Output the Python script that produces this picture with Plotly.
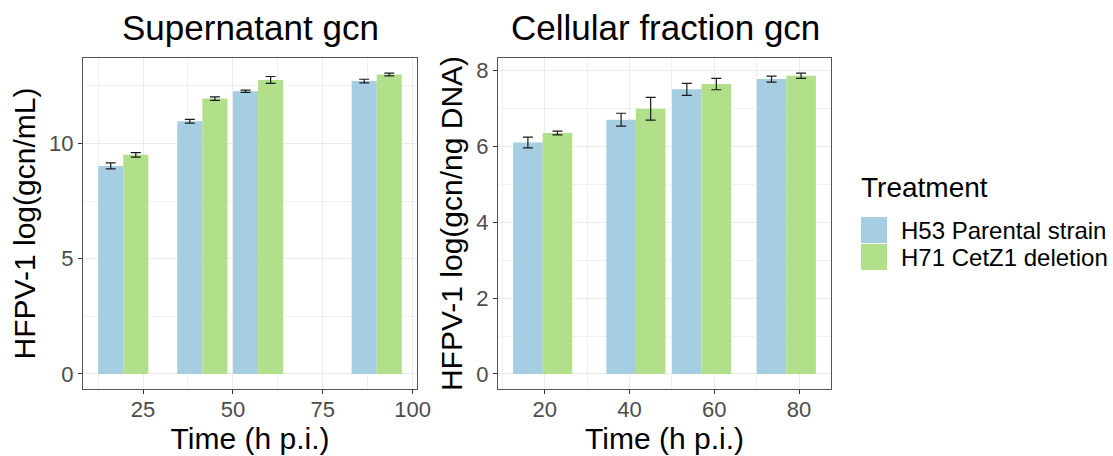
import plotly.graph_objects as go

# ---- data -------------------------------------------------------------
treatments = ["H53 Parental strain", "H71 CetZ1 deletion"]
colors = ["#a6cee3", "#b2df8a"]

sup_time = [19.5, 41.5, 57, 90]
sup_parental = [9.03, 10.97, 12.27, 12.71]
sup_parental_sd = [0.13, 0.08, 0.05, 0.08]
sup_deletion = [9.51, 11.95, 12.76, 13.00]
sup_deletion_sd = [0.10, 0.08, 0.15, 0.06]

cell_time = [19.5, 41.5, 57, 77]
cell_parental = [6.10, 6.70, 7.50, 7.77]
cell_parental_sd = [0.14, 0.17, 0.16, 0.08]
cell_deletion = [6.35, 6.99, 7.64, 7.86]
cell_deletion_sd = [0.05, 0.30, 0.15, 0.07]

sup_xticks = [25, 50, 75, 100]
sup_yticks = [0, 5, 10]
cell_xticks = [20, 40, 60, 80]
cell_yticks = [0, 2, 4, 6, 8]

panel_titles = ["Supernatant gcn", "Cellular fraction gcn"]
x_title = "Time (h p.i.)"
y_titles = ["HFPV-1 log(gcn/mL)", "HFPV-1 log(gcn/ng DNA)"]
legend_title = "Treatment"

# ---- geometry ---------------------------------------------------------
W, H = 1113, 456
FONT = "Liberation Sans, Arial, sans-serif"
BAR_W = 0.9 * 15.5 / 2  # dodge width split between two treatments


def px(x):
    return x / W


def py(y):
    return 1 - y / H


def padded(lo, hi, frac=0.05):
    span = hi - lo
    return [lo - frac * span, hi + frac * span]


fig = go.Figure()

panels = [
    (sup_time, [sup_parental, sup_deletion], [sup_parental_sd, sup_deletion_sd], "x", "y"),
    (cell_time, [cell_parental, cell_deletion], [cell_parental_sd, cell_deletion_sd], "x2", "y2"),
]

for times, series, sds, xa, ya in panels:
    for i, (vals, sd) in enumerate(zip(series, sds)):
        fig.add_trace(go.Bar(
            x=times, y=vals,
            width=BAR_W, offset=-BAR_W if i == 0 else 0,
            marker=dict(color=colors[i], line=dict(width=0)),
            error_y=dict(type="data", array=sd, visible=True,
                         color="#1a1a1a", thickness=1.2, width=5),
            name=treatments[i], showlegend=False,
            xaxis=xa, yaxis=ya,
        ))

# axis ranges follow the data extent with 5% padding
sup_xr = padded(min(sup_time) - BAR_W, max(sup_time) + BAR_W)
cell_xr = padded(min(cell_time) - BAR_W, max(cell_time) + BAR_W)
sup_yr = padded(0, max(v + s for v, s in zip(sup_deletion + sup_parental, sup_deletion_sd + sup_parental_sd)))
cell_yr = padded(0, max(v + s for v, s in zip(cell_deletion + cell_parental, cell_deletion_sd + cell_parental_sd)))


def mids(ticks):
    step = ticks[1] - ticks[0]
    return [ticks[0] - step / 2] + [t + step / 2 for t in ticks]


common = dict(
    showline=True, mirror=True, linecolor="#555555", linewidth=1,
    ticks="outside", ticklen=4, tickcolor="#333333", tickwidth=1,
    tickfont=dict(family=FONT, size=22, color="#4d4d4d"),
    showgrid=True, gridcolor="#ebebeb", gridwidth=1,
    zeroline=False, automargin=False,
)
minor_grid = dict(showgrid=True, gridcolor="#f1f1f1", gridwidth=1, ticks="")
title_font = dict(family=FONT, size=30, color="black")

ydom = [py(389), py(58)]

fig.update_layout(
    width=W, height=H,
    margin=dict(l=0, r=0, t=0, b=0),
    paper_bgcolor="white", plot_bgcolor="white",
    font=dict(family=FONT, color="black"),
    barmode="overlay",
    xaxis=dict(domain=[px(83), px(417)], range=sup_xr, tickvals=sup_xticks,
               minor=dict(tickvals=mids(sup_xticks), **minor_grid),
               title=dict(text=x_title, font=title_font, standoff=0),
               ticklabelstandoff=-3, anchor="y", **common),
    yaxis=dict(domain=ydom, range=sup_yr, tickvals=sup_yticks,
               minor=dict(tickvals=mids(sup_yticks), **minor_grid),
               title=dict(text=y_titles[0], font=title_font, standoff=4),
               anchor="x", **common),
    xaxis2=dict(domain=[px(498), px(831)], range=cell_xr, tickvals=cell_xticks,
                minor=dict(tickvals=mids(cell_xticks), **minor_grid),
                title=dict(text=x_title, font=title_font, standoff=0),
                ticklabelstandoff=-3, anchor="y2", **common),
    yaxis2=dict(domain=ydom, range=cell_yr, tickvals=cell_yticks,
                minor=dict(tickvals=mids(cell_yticks), **minor_grid),
                title=dict(text=y_titles[1], font=title_font, standoff=4),
                anchor="x2", **common),
)

# panel titles
for title, cx in zip(panel_titles, [250, 665]):
    fig.add_annotation(text=title, x=px(cx), y=py(28), xref="paper", yref="paper",
                       xanchor="center", yanchor="middle", showarrow=False,
                       font=dict(family=FONT, size=35, color="black"))

# legend: title, colour keys and labels
fig.add_annotation(text=legend_title, x=px(859), y=py(188), xref="paper", yref="paper",
                   xanchor="left", yanchor="middle", showarrow=False,
                   font=dict(family=FONT, size=28, color="black"))
key_top = 217
key_h = 27
for i, (label, col) in enumerate(zip(treatments, colors)):
    y0 = key_top + i * key_h
    fig.add_shape(type="rect", xref="paper", yref="paper",
                  x0=px(861), x1=px(887), y0=py(y0 + key_h - 1), y1=py(y0),
                  fillcolor=col, line=dict(width=0))
    fig.add_annotation(text=label, x=px(899), y=py(y0 + key_h / 2), xref="paper", yref="paper",
                       xanchor="left", yanchor="middle", showarrow=False,
                       font=dict(family=FONT, size=24, color="black"))

fig.write_html("out.html")
